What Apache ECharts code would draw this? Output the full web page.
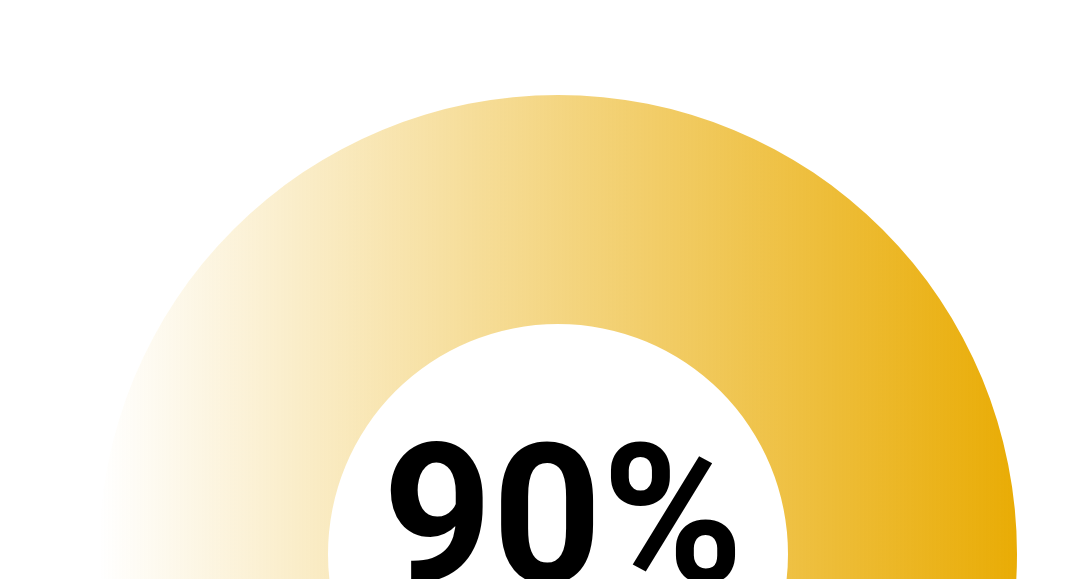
<!DOCTYPE html>
<html>
<head>
<meta charset="utf-8">
<script src="https://cdn.jsdelivr.net/npm/echarts@6/dist/echarts.min.js"></script>
<style>
html,body{margin:0;padding:0;background:#fff;}
#main{width:1080px;height:579px;overflow:hidden;}
</style>
</head>
<body>
<div id="main"></div>
<script>
var names = ['完成率'];
var values = [90];
var gradientColors = ['rgba(233,172,5,0)', 'rgba(233,172,5,1)'];

var chart = echarts.init(document.getElementById('main'), null, {renderer: 'canvas'});
chart.setOption({
  animation: false,
  series: [{
    type: 'pie',
    center: [558, 554],
    radius: [230, 459],
    silent: true,
    startAngle: 180,
    data: names.map(function (n, i) {
      return {name: n, value: values[i]};
    }),
    itemStyle: {
      color: {
        type: 'linear', x: 0, y: 0, x2: 1, y2: 0,
        colorStops: [
          {offset: 0, color: gradientColors[0]},
          {offset: 1, color: gradientColors[1]}
        ]
      }
    },
    label: {show: false},
    labelLine: {show: false}
  }],
  graphic: [{
    type: 'text',
    x: 563,
    y: 533,
    scaleX: 0.98,
    silent: true,
    style: {
      text: values[0] + '%',
      fontFamily: 'Roboto, sans-serif',
      fontWeight: 'bold',
      fontSize: 195,
      fill: '#000',
      textAlign: 'center',
      textVerticalAlign: 'middle'
    }
  }]
});
</script>
</body>
</html>
